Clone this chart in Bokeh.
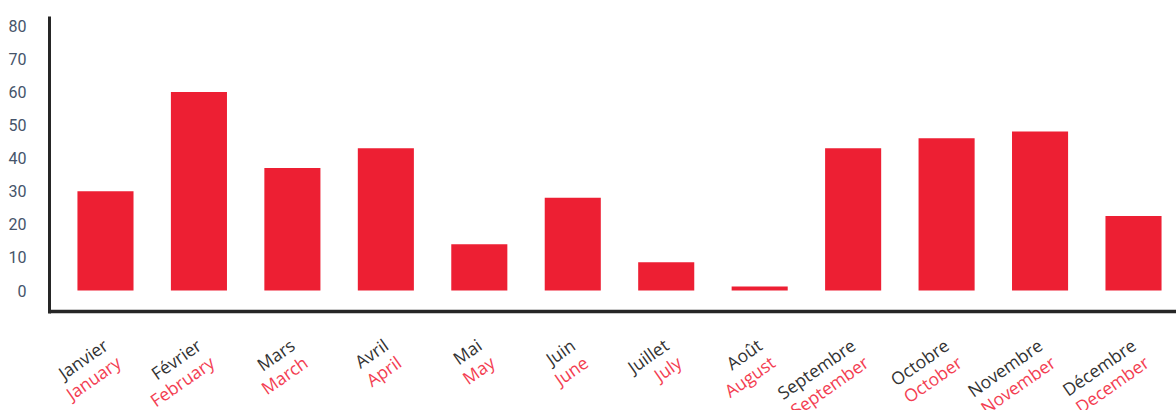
import math
from bokeh.plotting import figure
from bokeh.models import Range1d, FixedTicker, Label, ColumnDataSource
from bokeh.embed import file_html
from bokeh.resources import INLINE

# ---- data ----
months_fr = ["Janvier", "Février", "Mars", "Avril", "Mai", "Juin",
             "Juillet", "Août", "Septembre", "Octobre", "Novembre", "Décembre"]
months_en = ["January", "February", "March", "April", "May", "June",
             "July", "August", "September", "October", "November", "December"]
values = [30, 60, 37, 43, 14, 28, 8.5, 1.2, 43, 46, 48, 22.5]
y_ticks = [0, 10, 20, 30, 40, 50, 60, 70, 80]

# ---- styles / layout ----
BAR_COLOR = "#ED1F33"
AXIS_COLOR = "#262626"
TICK_COLOR = "#45546A"
FR_COLOR = "#333333"
EN_COLOR = "#F33E52"
W, H = 1176, 410
Y_START, Y_END = -36.25, 82.78
X_AXIS_Y = -6.34            # where the horizontal axis line sits
FR_Y, EN_Y = -15.8, -21.0   # label rows, below the axis

xs = list(range(len(values)))
src = ColumnDataSource(dict(x=xs, top=values))

p = figure(width=W, height=H, output_backend="svg", toolbar_location=None,
           x_range=Range1d(-0.599, 11.46), y_range=Range1d(Y_START, Y_END),
           min_border_left=49, min_border_right=0, min_border_top=16,
           min_border_bottom=0)
p.outline_line_color = None
p.xgrid.visible = False
p.ygrid.visible = False
p.background_fill_color = "white"
p.border_fill_color = "white"

p.vbar(x="x", top="top", bottom=0, width=0.6, source=src,
       fill_color=BAR_COLOR, line_color=None)

# y axis
ya = p.yaxis[0]
ya.ticker = FixedTicker(ticks=y_ticks)
ya.bounds = (X_AXIS_Y - 0.5, Y_END)
ya.axis_line_color = AXIS_COLOR
ya.axis_line_width = 3
ya.major_tick_line_color = None
ya.minor_tick_line_color = None
ya.major_label_text_font = "Roboto"
ya.major_label_text_font_size = "16px"
ya.major_label_text_color = TICK_COLOR
ya.major_label_standoff = 17

# x axis: line only, at the axis position
xa = p.xaxis[0]
xa.fixed_location = X_AXIS_Y
xa.ticker = FixedTicker(ticks=[])
xa.axis_line_color = AXIS_COLOR
xa.axis_line_width = 3.5
xa.major_tick_line_color = None
xa.minor_tick_line_color = None
xa.major_tick_out = 0
xa.major_label_standoff = 0
xa.major_label_text_font_size = "0px"

ang = math.radians(35)
for i, (fr, en) in enumerate(zip(months_fr, months_en)):
    p.add_layout(Label(x=xs[i], y=FR_Y, x_units="data", y_units="data",
                       text=fr, angle=ang, text_align="right",
                       text_baseline="alphabetic", text_font="Open Sans",
                       text_font_size="17.5px", text_color=FR_COLOR))
    p.add_layout(Label(x=xs[i], y=EN_Y, x_units="data", y_units="data",
                       x_offset=13, text=en, angle=ang, text_align="right",
                       text_baseline="alphabetic", text_font="Open Sans",
                       text_font_size="17.5px", text_color=EN_COLOR))

open("out.html", "w").write(file_html(p, INLINE))
